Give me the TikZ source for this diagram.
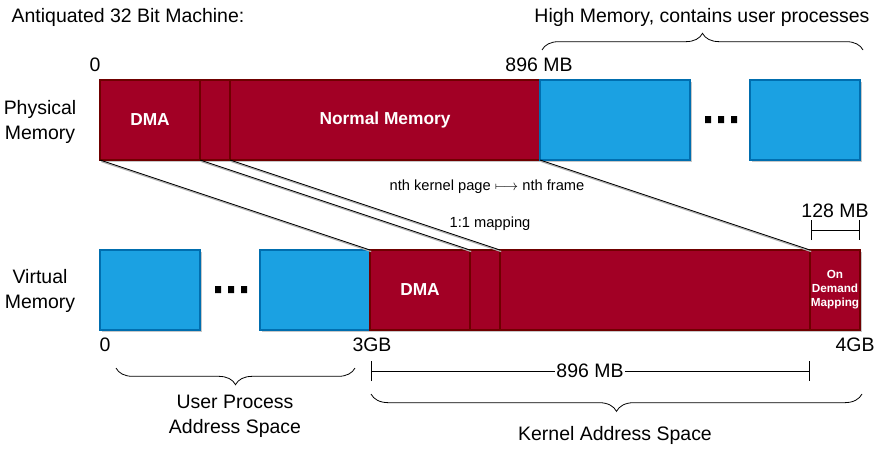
\documentclass[tikz,border=0pt]{standalone}
\usepackage{fontspec}
\setmainfont{Liberation Sans}
\usetikzlibrary{decorations.pathreplacing,shadows,arrows.meta}
\definecolor{memred}{HTML}{A20025}
\definecolor{memredline}{HTML}{6F0000}
\definecolor{memblue}{HTML}{1BA1E2}
\definecolor{membline}{HTML}{006EAF}
\tikzset{
  seg/.style={rectangle, inner sep=0pt, outer sep=0pt, minimum height=60pt, line width=0.8pt,
    drop shadow={shadow xshift=1.5pt, shadow yshift=-1.8pt, fill=black, opacity=.22}},
  redseg/.style={seg, fill=memred, draw=memredline, text=white, font=\fontsize{13}{15}\selectfont\bfseries},
  blueseg/.style={seg, fill=memblue, draw=membline},
  lbl/.style={inner sep=0pt, font=\fontsize{14.6}{18.5}\selectfont, align=center},
  smalllbl/.style={inner sep=0pt, font=\fontsize{11}{13}\selectfont},
  conn/.style={line width=0.6pt, preaction={draw=black!30, line width=0.9pt, transform canvas={shift={(0.9pt,-1.2pt)}}}},
  bracedec/.style={decorate, decoration={brace, amplitude=#1}, line width=0.6pt},
  dimline/.style={line width=0.6pt, {Bar[width=15pt]}-{Bar[width=15pt]}},
  dots/.style={fill=black}
}
\begin{document}
\begin{tikzpicture}[x=0.75pt, y=-0.75pt]
\useasboundingbox (0,0) rectangle (885,453);
% title
\node[lbl] (title) at (128,17) {Antiquated 32 Bit Machine:};
\node[lbl] (hightxt) at (702,17) {High Memory, contains user processes};
% physical memory
\node[lbl] (physlbl) at (40,122) {Physical\\Memory};
\node[redseg, minimum width=75pt] (pDMA) at (150,120) {DMA};
\node[redseg, minimum width=22.5pt] (pX) at (215,120) {};
\node[redseg, minimum width=232.5pt] (pNorm) at (385,120) {Normal Memory};
\node[blueseg, minimum width=112.5pt] (pH1) at (615,120) {};
\node[blueseg, minimum width=82.5pt] (pH2) at (805,120) {};
\fill[dots] (705,116) rectangle (711,123) (718,116) rectangle (724,123) (731,116) rectangle (737,123);
\node[lbl] (p0) at (95,65) {0};
\node[lbl] (p896) at (539,65) {896 MB};
\coordinate (hbL) at (542,50);
\coordinate (hbR) at (863,50);
\draw[bracedec=12.5pt] (hbL) -- (hbR);
% virtual memory
\node[lbl] (virtlbl) at (40,291) {Virtual\\Memory};
\node[blueseg, minimum width=75pt] (vU1) at (150,290) {};
\node[blueseg, minimum width=82.5pt] (vU2) at (315,290) {};
\fill[dots] (215,286) rectangle (221,293) (228,286) rectangle (234,293) (241,286) rectangle (247,293);
\node[redseg, minimum width=75pt] (vDMA) at (420,290) {DMA};
\node[redseg, minimum width=22.5pt] (vX) at (485,290) {};
\node[redseg, minimum width=232.5pt] (vNorm) at (655,290) {};
\node[redseg, minimum width=37.5pt, font=\fontsize{8.8}{10.5}\selectfont\bfseries, align=center] (vOD) at (835,290) {On\\Demand\\Mapping};
\node[lbl] (v0) at (105,345) {0};
\node[lbl] (v3) at (372,345) {3GB};
\node[lbl] (v4) at (855,345) {4GB};
% mapping lines
\draw[conn] (pDMA.south west) -- (vDMA.north west);
\draw[conn] (pX.south west) -- (vX.north west);
\draw[conn] (pNorm.south west) -- (vNorm.north west);
\draw[conn] (pH1.south west) -- (vOD.north west);
\node[smalllbl] (nthlbl) at (487,187) {nth kernel page $\longmapsto$ nth frame};
\node[smalllbl] (onelbl) at (490,224) {1:1 mapping};
% 128 MB dimension
\coordinate (d128L) at (811,230);
\coordinate (d128R) at (860,230);
\draw[dimline] (d128L) -- (d128R);
\node[lbl] (l128) at (835,211) {128 MB};
% 896 MB dimension
\coordinate (d896L) at (371,371);
\coordinate (d896R) at (810,371);
\draw[dimline] (d896L) -- (d896R);
\node[lbl, fill=white, inner xsep=1pt] (l896) at (590,371) {896 MB};
% braces
\coordinate (ubR) at (355,368);
\coordinate (ubL) at (116,368);
\draw[bracedec=12.5pt] (ubR) -- (ubL);
\node[lbl] (userlbl) at (235,416) {User Process\\Address Space};
\coordinate (kbR) at (862,394);
\coordinate (kbL) at (371,394);
\draw[bracedec=13pt] (kbR) -- (kbL);
\node[lbl] (kernlbl) at (615,435) {Kernel Address Space};
\end{tikzpicture}
\end{document}
